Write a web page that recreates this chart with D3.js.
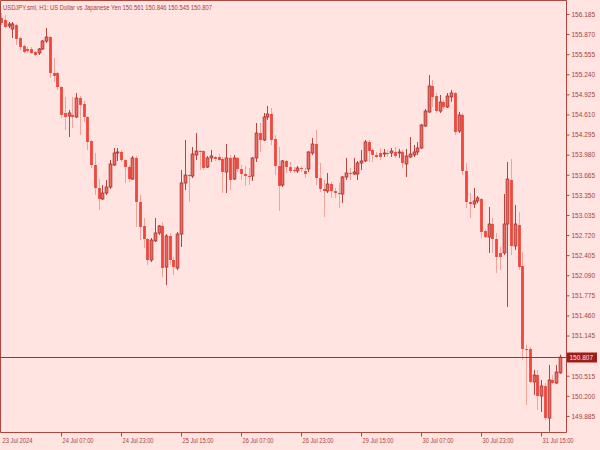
<!DOCTYPE html>
<html><head><meta charset="utf-8">
<script src="https://cdn.jsdelivr.net/npm/d3@7/dist/d3.min.js"></script>
<style>html,body{margin:0;padding:0;background:#ffe4e1;}svg{display:block;}</style>
</head><body>
<script>
const title = "USDJPY.sml, H1:  US Dollar vs Japanese Yen  150.561 150.846 150.545 150.807";
const open = [156.122,156.091,155.997,155.950,156.012,155.808,155.683,155.636,155.636,155.589,155.573,155.636,155.761,155.824,155.260,155.260,155.040,154.633,154.586,154.602,154.570,154.868,154.774,154.570,154.194,153.818,153.457,153.285,153.379,153.473,153.818,154.006,154.022,153.896,153.786,153.598,153.928,153.238,152.862,152.658,152.329,152.627,152.752,152.862,152.219,152.705,152.329,152.203,152.736,153.536,153.661,153.645,153.975,154.037,154.037,153.786,153.928,153.943,153.943,153.912,153.708,153.928,153.598,153.928,153.755,153.677,153.645,153.645,153.928,154.319,154.210,154.570,154.617,154.225,153.802,153.504,153.881,153.786,153.739,153.724,153.771,153.724,153.755,154.006,154.147,153.614,153.442,153.410,153.520,153.410,153.379,153.363,153.630,153.692,153.677,153.677,153.849,153.881,154.178,154.053,153.975,154.006,153.990,154.006,154.006,154.022,154.006,154.022,153.834,153.943,153.975,154.022,154.084,154.429,154.649,155.056,154.899,154.664,154.805,154.727,154.884,154.946,154.351,154.602,153.724,153.238,153.207,153.254,153.285,152.783,152.689,152.893,152.658,152.439,152.439,152.893,153.583,152.548,152.877,152.235,150.934,150.934,150.417,150.526,150.197,150.354,149.852,150.448,150.401,150.561];
const high = [156.200,156.169,156.059,156.059,156.028,155.824,155.699,155.667,155.667,155.605,155.652,155.777,155.965,155.840,155.495,155.275,155.056,154.884,154.680,154.884,154.946,154.899,154.821,154.586,154.210,154.006,153.598,153.504,153.583,153.896,154.084,154.084,154.053,153.912,153.818,153.959,153.959,153.348,152.987,152.674,152.674,152.987,152.877,152.924,152.736,152.752,152.376,152.768,153.739,154.210,153.677,154.100,154.319,154.053,154.053,153.959,154.053,153.959,153.990,153.943,154.147,153.975,153.975,153.943,153.818,153.802,153.771,153.943,154.476,154.476,154.633,154.743,154.711,154.288,154.100,153.896,153.896,153.865,153.786,153.802,153.802,153.771,154.037,154.241,154.366,153.849,153.583,153.692,153.551,153.457,153.536,153.645,153.928,153.771,153.928,153.881,154.053,154.210,154.210,154.069,154.022,154.084,154.069,154.053,154.084,154.100,154.069,154.053,154.069,154.257,154.131,154.178,154.460,154.696,155.228,155.150,154.946,154.915,154.837,154.946,154.993,154.962,154.649,154.633,153.849,153.379,153.457,153.332,153.301,152.815,153.160,152.987,152.752,152.533,153.363,153.865,153.912,153.191,153.081,152.454,150.997,150.965,150.605,150.605,150.448,150.401,150.683,150.526,150.683,150.846];
const low = [156.012,155.965,155.965,155.808,155.699,155.620,155.573,155.573,155.558,155.526,155.542,155.620,155.730,155.181,155.119,154.993,154.555,154.366,154.257,154.398,154.555,154.288,154.492,154.053,153.771,153.348,153.113,153.269,153.348,153.442,153.802,153.881,153.865,153.536,153.551,153.583,152.846,152.642,152.517,152.250,152.297,152.611,152.721,152.062,151.937,152.250,152.094,152.172,152.533,153.426,153.238,153.614,153.896,153.739,153.739,153.771,153.865,153.881,153.881,153.379,153.379,153.426,153.583,153.708,153.583,153.489,153.504,153.567,153.865,154.022,154.194,154.523,154.131,153.661,153.097,153.473,153.692,153.692,153.692,153.692,153.708,153.614,153.708,153.975,153.504,153.395,153.003,153.379,153.301,153.301,153.144,153.222,153.583,153.583,153.661,153.583,153.739,153.865,153.865,153.865,153.928,153.896,153.943,153.943,153.943,153.928,153.928,153.771,153.630,153.928,153.943,153.975,154.069,154.413,154.633,154.727,154.633,154.633,154.696,154.711,154.805,154.288,154.319,153.661,153.144,152.987,153.144,153.222,152.674,152.674,152.439,152.439,152.125,152.172,152.407,151.592,152.407,152.486,152.172,150.761,150.056,150.401,150.213,149.978,149.946,149.821,149.640,150.385,150.385,150.545];
const close = [156.044,155.981,156.028,156.028,155.793,155.667,155.589,155.605,155.573,155.542,155.636,155.761,155.824,155.260,155.213,155.040,154.602,154.570,154.633,154.570,154.868,154.758,154.570,154.178,153.818,153.457,153.285,153.379,153.473,153.834,154.006,154.022,153.896,153.786,153.598,153.928,153.238,152.846,152.658,152.329,152.642,152.752,152.862,152.203,152.705,152.329,152.219,152.736,153.536,153.661,153.645,153.990,154.037,154.022,153.771,153.928,153.959,153.912,153.896,153.708,153.928,153.583,153.928,153.755,153.677,153.645,153.630,153.928,154.319,154.210,154.570,154.617,154.210,153.802,153.489,153.881,153.786,153.724,153.724,153.771,153.755,153.677,154.022,154.147,153.614,153.442,153.410,153.520,153.410,153.379,153.363,153.630,153.692,153.677,153.708,153.849,153.881,154.178,154.037,153.975,153.943,153.943,154.006,153.990,154.037,153.959,154.022,153.849,153.959,153.990,154.022,154.084,154.445,154.664,155.056,154.884,154.664,154.805,154.727,154.899,154.946,154.335,154.602,153.724,153.238,153.207,153.254,153.301,152.768,152.689,152.893,152.658,152.376,152.376,152.893,153.598,152.548,152.893,152.219,150.934,150.918,150.417,150.526,150.197,150.354,149.852,150.448,150.401,150.573,150.807];
const priceTicks = [156.185,155.870,155.555,155.240,154.925,154.610,154.295,153.980,153.665,153.350,153.035,152.720,152.405,152.090,151.775,151.460,151.145,150.515,150.200,149.885];
const timeLabels = ["23 Jul 2024","24 Jul 07:00","24 Jul 23:00","25 Jul 15:00","26 Jul 07:00","26 Jul 23:00","29 Jul 15:00","30 Jul 07:00","30 Jul 23:00","31 Jul 15:00"];
const timeLabelBars = [0,16,32,48,64,80,96,112,128,144];
const lastPrice = 150.807;
const priceRange = [149.633, 156.404];

const W = 600, H = 450;
const plot = {left: 0, top: 0, right: 566, bottom: 432};
const bg = "#ffe4e1", axisCol = "#b0443f", textCol = "#a8403c";
const font = "'Liberation Sans', Arial, sans-serif";

const svg = d3.select("body").append("svg").attr("width", W).attr("height", H);
svg.append("rect").attr("width", W).attr("height", H).attr("fill", bg);

const n = open.length;
const x = d3.scaleLinear().domain([0, n - 1]).range([1, 1 + 3.75 * (n - 1)]);
const y = d3.scaleLinear().domain(priceRange).range([plot.bottom, plot.top]);

const bars = d3.range(n).map(i => ({i, o: open[i], h: high[i], l: low[i], c: close[i]}));
const g = svg.append("g");

// wicks
g.selectAll("line.wick").data(bars).join("line")
  .attr("x1", d => Math.round(x(d.i)) + 0.5).attr("x2", d => Math.round(x(d.i)) + 0.5)
  .attr("y1", d => y(d.h)).attr("y2", d => y(d.l))
  .attr("stroke", d => d.c >= d.o ? "#b4453f" : "#f3a29c").attr("stroke-width", 1);

// bodies
g.selectAll("rect.body").data(bars).join("rect")
  .attr("x", d => Math.round(x(d.i)) + 0.5 - 1.4).attr("width", 2.8)
  .attr("y", d => y(Math.max(d.o, d.c)))
  .attr("height", d => Math.max(1, Math.abs(y(d.o) - y(d.c))))
  .attr("fill", d => d.c >= d.o ? "#ec6a62" : "#f0463c")
  .attr("stroke", d => d.c >= d.o ? "#a8332d" : "none")
  .attr("stroke-width", 0.8);

// frame
svg.append("path")
  .attr("d", `M0.5,0.5H${plot.right + 0.5}V${plot.bottom + 0.5}H0.5Z`)
  .attr("fill", "none").attr("stroke", axisCol).attr("stroke-width", 1);

// price axis
const yAxis = d3.axisRight(y).tickValues(priceTicks).tickSize(3).tickPadding(2)
  .tickFormat(d3.format(".3f"));
const ya = svg.append("g").attr("transform", `translate(${plot.right + 0.5},0)`).call(yAxis);
ya.select(".domain").remove();
ya.selectAll("line").attr("stroke", axisCol);
ya.selectAll("text").attr("fill", textCol).attr("font-family", font).attr("font-size", 7.2)
  .attr("textLength", 23.5).attr("lengthAdjust", "spacingAndGlyphs");

// time axis
const xAxis = d3.axisBottom(x).tickValues(timeLabelBars).tickSize(4).tickFormat((d, k) => timeLabels[k]);
const xa = svg.append("g").attr("transform", `translate(0,${plot.bottom + 0.5})`).call(xAxis);
xa.select(".domain").remove();
xa.selectAll("line").attr("stroke", axisCol).attr("opacity", (d, k) => k === 0 ? 0 : 1);
xa.selectAll("text").attr("fill", textCol).attr("font-family", font).attr("font-size", 6.6)
  .attr("text-anchor", "start").attr("dx", 1).attr("y", 6)
  .attr("textLength", (d, k) => k === 0 ? 30 : 31).attr("lengthAdjust", "spacingAndGlyphs");

// current price line + label
const yl = Math.round(y(lastPrice)) + 0.5;
svg.append("line").attr("x1", 0).attr("x2", plot.right).attr("y1", yl).attr("y2", yl)
  .attr("stroke", "#a5302b").attr("stroke-width", 1);
svg.append("rect").attr("x", plot.right + 1).attr("y", yl - 5).attr("width", 30).attr("height", 10)
  .attr("fill", "#9e1d1a");
svg.append("text").attr("x", plot.right + 3.5).attr("y", yl + 2.6).text(d3.format(".3f")(lastPrice))
  .attr("fill", "#ffe4e1").attr("font-family", font).attr("font-size", 7.2)
  .attr("textLength", 23.5).attr("lengthAdjust", "spacingAndGlyphs");

// header
svg.append("text").attr("x", 3).attr("y", 9.5).text(title)
  .attr("fill", textCol).attr("font-family", font).attr("font-size", 6.4)
  .attr("textLength", 209).attr("lengthAdjust", "spacingAndGlyphs");
</script>
</body></html>
